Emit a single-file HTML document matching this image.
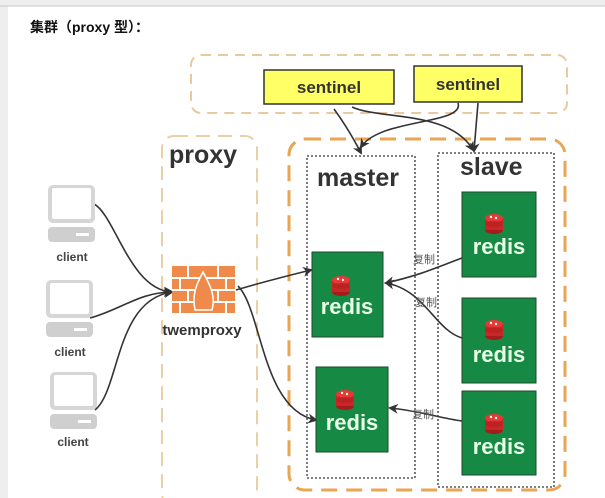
<!DOCTYPE html>
<html><head><meta charset="utf-8"><style>
html,body{margin:0;padding:0;background:#fff;}
body{width:605px;height:498px;overflow:hidden;position:relative;font-family:"Liberation Sans","Noto Sans CJK SC",sans-serif;}
</style></head><body>
<svg width="605" height="498" viewBox="0 0 605 498" xmlns="http://www.w3.org/2000/svg" style="position:absolute;left:0;top:0">
<defs>
<marker id="ah" markerWidth="10" markerHeight="10" refX="8" refY="5" orient="auto" markerUnits="userSpaceOnUse">
<path d="M0,0 L10,5 L0,10 L3,5 z" fill="#333"/></marker>
<g id="pc">
<rect x="0" y="0" width="47" height="38" rx="5" fill="#d6d6d6"/>
<rect x="4" y="3" width="39" height="31" rx="2" fill="#fff"/>
<rect x="0" y="42" width="47" height="15" rx="4" fill="#cfcfcf"/>
<rect x="28" y="48" width="13" height="3" fill="#fff"/>
</g>
<g id="cube">
<ellipse cx="0" cy="10" rx="9" ry="4" fill="#a51c1c"/>
<rect x="-9" y="-2" width="18" height="12" fill="#c62828"/>
<ellipse cx="0" cy="-2" rx="9" ry="4" fill="#e53935"/>
<ellipse cx="0" cy="4" rx="9" ry="3" fill="#b71c1c" opacity="0.6"/>
<circle cx="-3" cy="-3" r="1.2" fill="#fff"/><circle cx="2" cy="-2" r="1.2" fill="#fff"/>
</g>
</defs>
<rect x="0" y="0" width="605" height="6" fill="#eeeeee"/>
<rect x="0" y="6" width="8" height="492" fill="#eeeeee"/>
<line x1="0" y1="6" x2="605" y2="6" fill="none" stroke="#c8c8c8"/>
<text x="30" y="32" font-size="14" font-weight="bold" fill="#111">集群（proxy 型）：</text>

<!-- boxes -->
<rect x="191" y="55" width="376" height="58" rx="10" fill="none" stroke="#e8c9a0" stroke-width="2" stroke-dasharray="10,7"/>
<rect x="162" y="136" width="95" height="370" rx="12" fill="none" stroke="#ebcfa6" stroke-width="2" stroke-dasharray="14,8"/>
<rect x="289" y="139" width="276" height="351" rx="16" fill="none" stroke="#e8a553" stroke-width="3" stroke-dasharray="16,9"/>
<rect x="307" y="156" width="108" height="322" fill="none" stroke="#333" stroke-width="1.3" stroke-dasharray="2,2"/>
<rect x="438" y="153" width="116" height="334" fill="none" stroke="#333" stroke-width="1.3" stroke-dasharray="2,2"/>
<text x="169" y="163" font-size="25" font-weight="bold" fill="#333">proxy</text>
<text x="317" y="186" font-size="25" font-weight="bold" fill="#333">master</text>
<text x="460" y="175" font-size="25" font-weight="bold" fill="#333">slave</text>

<!-- sentinels -->
<rect x="264" y="70" width="130" height="34" fill="#ffff66" stroke="#333" stroke-width="1.5"/>
<text x="329" y="93" font-size="17" font-weight="bold" fill="#333" text-anchor="middle">sentinel</text>
<rect x="414" y="66" width="108" height="36" fill="#ffff66" stroke="#333" stroke-width="1.5"/>
<text x="468" y="90" font-size="17" font-weight="bold" fill="#333" text-anchor="middle">sentinel</text>

<g fill="none" stroke="#333" stroke-width="1.6" marker-end="url(#ah)">
<path d="M334,109 Q348,128 361,153"/>
<path d="M352,107 C380,120 450,110 473,150"/>
<path d="M458,103 C465,125 380,118 361,147"/>
<path d="M478,103 L474,151"/>
<!-- clients -->
<path d="M94,204 C115,215 130,290 172,292"/>
<path d="M90,318 C120,310 140,292 172,292"/>
<path d="M95,410 C120,390 115,300 172,292"/>
<!-- proxy to master -->
<path d="M236,290 Q270,280 311,270"/>
<path d="M238,286 C262,310 262,410 316,420"/>
<!-- replication -->
<path d="M462,258 C430,270 420,275 386,283"/>
<path d="M462,338 C435,330 425,290 386,283"/>
<path d="M462,421 C440,418 420,411 390,408"/>
</g>

<!-- clients -->
<use href="#pc" x="48" y="185"/>
<use href="#pc" x="46" y="280"/>
<use href="#pc" x="50" y="372"/>
<text x="72" y="261" font-size="12" font-weight="bold" fill="#444" text-anchor="middle">client</text>
<text x="70" y="356" font-size="12" font-weight="bold" fill="#444" text-anchor="middle">client</text>
<text x="73" y="446" font-size="12" font-weight="bold" fill="#444" text-anchor="middle">client</text>

<!-- firewall -->
<g>
<rect x="172" y="266" width="63" height="47" fill="#f08a4b"/>
<g stroke="#fff" stroke-width="2">
<line x1="172" y1="278" x2="235" y2="278"/><line x1="172" y1="290" x2="235" y2="290"/><line x1="172" y1="302" x2="235" y2="302"/>
<line x1="188" y1="266" x2="188" y2="278"/><line x1="218" y1="266" x2="218" y2="278"/>
<line x1="180" y1="278" x2="180" y2="290"/><line x1="226" y1="278" x2="226" y2="290"/>
<line x1="188" y1="290" x2="188" y2="302"/><line x1="218" y1="290" x2="218" y2="302"/>
<line x1="180" y1="302" x2="180" y2="313"/><line x1="226" y1="302" x2="226" y2="313"/>
</g>
<path d="M203,272 C196,285 192,295 195,310 L212,310 C216,296 210,285 203,272 z" fill="#f08a4b" stroke="#fff" stroke-width="1.5"/>
</g>
<text x="202" y="335" font-size="15" font-weight="bold" fill="#333" text-anchor="middle">twemproxy</text>

<!-- redis -->
<g font-size="22" font-weight="bold" fill="#e8ffe8" text-anchor="middle">
<rect x="312" y="252" width="71" height="85" fill="#168a45" stroke="#1c4a2a" stroke-width="1"/>
<use href="#cube" x="341" y="282"/><text x="347" y="314">redis</text>
<rect x="316" y="367" width="72" height="85" fill="#168a45" stroke="#1c4a2a" stroke-width="1"/>
<use href="#cube" x="345" y="396"/><text x="352" y="430">redis</text>
<rect x="462" y="192" width="74" height="85" fill="#168a45" stroke="#1c4a2a" stroke-width="1"/>
<use href="#cube" x="494" y="220"/><text x="499" y="254">redis</text>
<rect x="462" y="298" width="74" height="85" fill="#168a45" stroke="#1c4a2a" stroke-width="1"/>
<use href="#cube" x="494" y="326"/><text x="499" y="362">redis</text>
<rect x="462" y="391" width="74" height="84" fill="#168a45" stroke="#1c4a2a" stroke-width="1"/>
<use href="#cube" x="494" y="420"/><text x="499" y="454">redis</text>
</g>
<g font-size="11" fill="#555">
<text x="413" y="263">复制</text>
<text x="415" y="306">复制</text>
<text x="412" y="418">复制</text>
</g>
</svg>
</body></html>
